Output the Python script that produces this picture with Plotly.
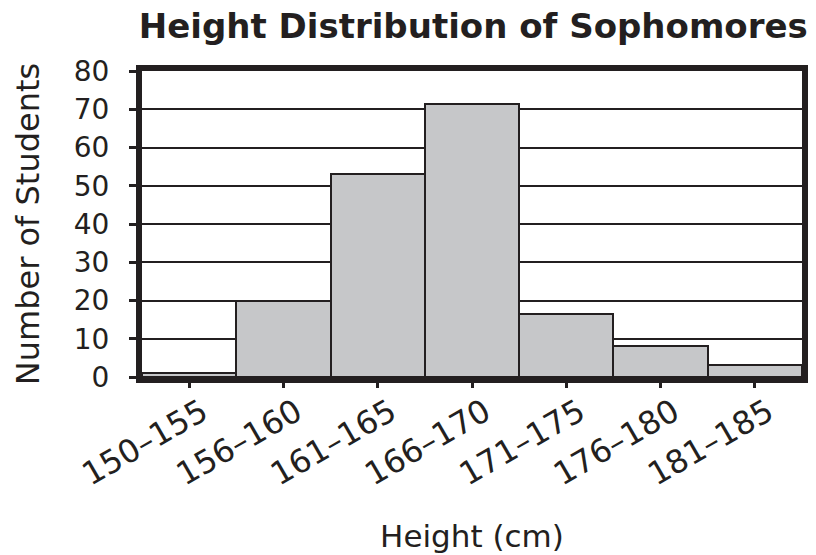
import plotly.graph_objects as go

categories = ["150–155", "156–160", "161–165", "166–170", "171–175", "176–180", "181–185"]
students = [1, 20, 53.2, 71.5, 16.6, 8.1, 3.1]
y_ticks = [0, 10, 20, 30, 40, 50, 60, 70, 80]

ink = "#231f20"
font = "DejaVu Sans"

fig = go.Figure(go.Bar(
    x=categories, y=students,
    marker=dict(color="#c6c7c9", line=dict(color=ink, width=2)),
    width=1.0,
))

fig.update_layout(
    width=816, height=555,
    margin=dict(l=142, r=14, t=71, b=178, autoexpand=False),
    paper_bgcolor="white", plot_bgcolor="white",
    bargap=0,
    showlegend=False,
    font=dict(family=font, color=ink),
    title=dict(text="<b>Height Distribution of Sophomores</b>",
               font=dict(family=font, size=34, color=ink),
               x=0.58, xanchor="center", y=0.953, yanchor="middle"),
)
fig.update_xaxes(
    type="category",
    automargin=False,
    showline=True, linewidth=6, linecolor=ink, mirror=True,
    ticks="outside", ticklen=5, tickwidth=3, tickcolor=ink,
    tickangle=-30, tickfont=dict(family=font, size=32, color=ink),
    ticklabelshift=13, ticklabelstandoff=-7,
    showgrid=False,
    title=dict(text="Height (cm)", font=dict(family=font, size=31, color=ink), standoff=35),
)
fig.update_yaxes(
    range=[0, 80], tickvals=y_ticks,
    automargin=False,
    showline=True, linewidth=6, linecolor=ink, mirror=True,
    ticks="outside", ticklen=7, tickwidth=3, tickcolor=ink,
    tickfont=dict(family=font, size=28, color=ink),
    ticklabelstandoff=14,
    showgrid=True, gridcolor=ink, gridwidth=2,
    zeroline=False,
    title=dict(text="Number of Students", font=dict(family=font, size=32, color=ink), standoff=27),
)

# remove the default page margin so the 816x555 figure fills the window exactly
fig.write_html(
    "out.html",
    config={"displayModeBar": False},
    post_script="document.body.style.margin='0';document.body.style.overflow='hidden';",
)
